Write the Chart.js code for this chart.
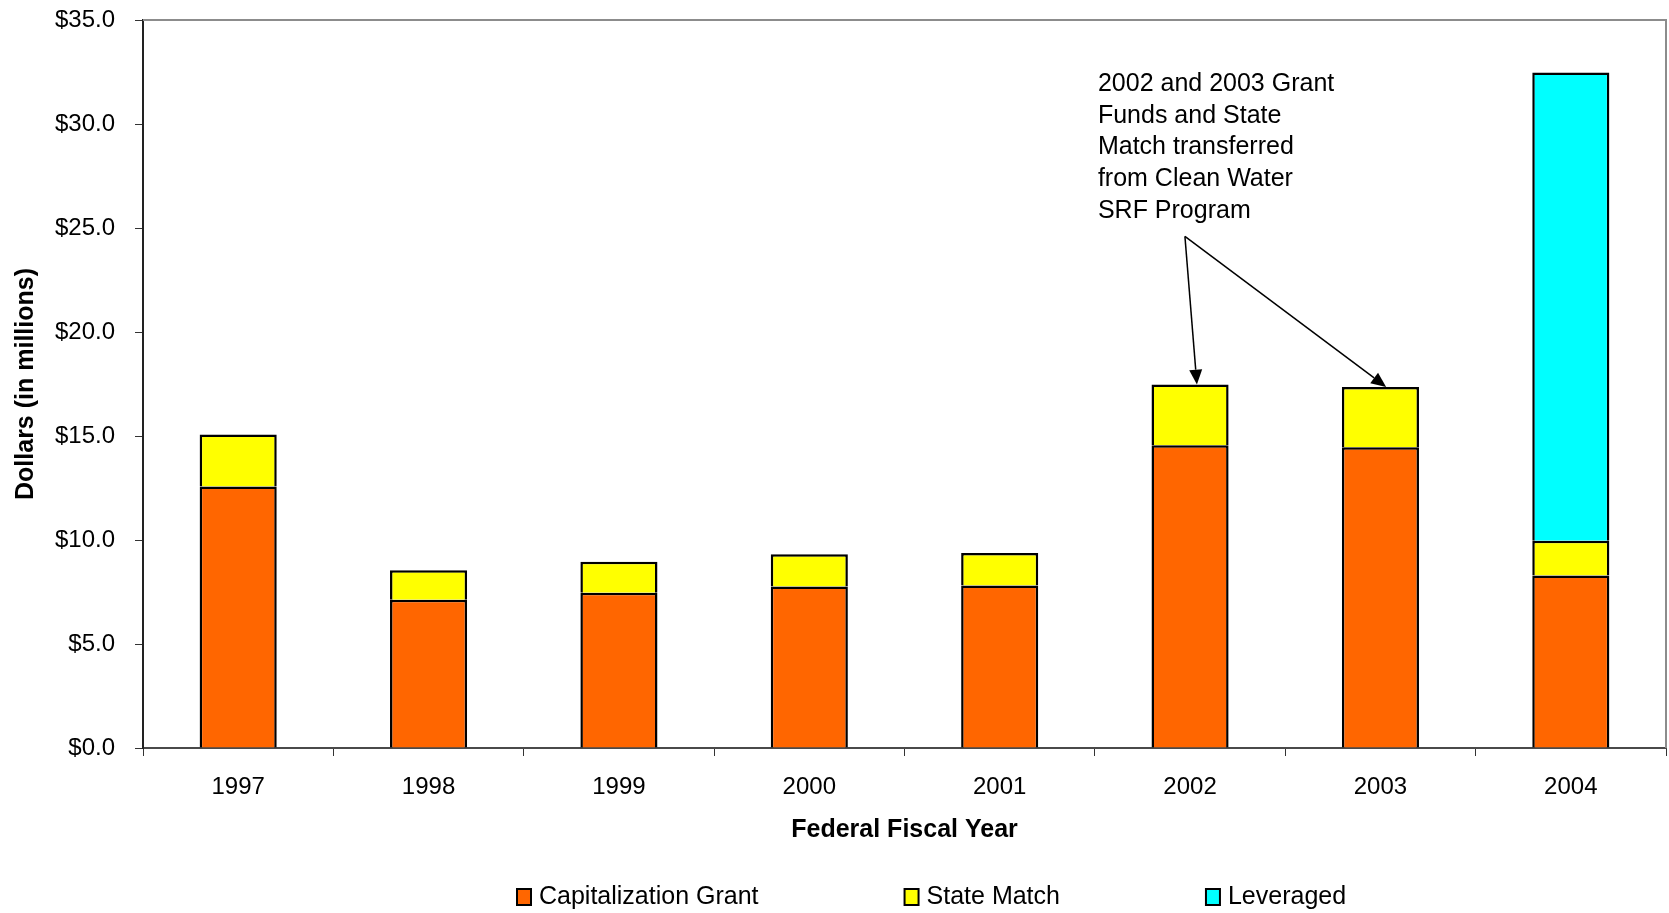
<!DOCTYPE html>
<html>
<head>
<meta charset="utf-8">
<script src="https://cdn.jsdelivr.net/npm/chart.js@4.4.0/dist/chart.umd.min.js"></script>
<style>
  html, body { margin: 0; padding: 0; background: #ffffff; }
  #wrap { width: 1669px; height: 913px; }
</style>
</head>
<body>
<div id="wrap"><canvas id="chart" width="1669" height="913"></canvas></div>
<script>
// Federal fiscal years on the category axis
const years = ['1997', '1998', '1999', '2000', '2001', '2002', '2003', '2004'];

// Funding sources, dollars in millions
const capitalizationGrant = [12.57, 7.13, 7.46, 7.77, 7.81, 14.56, 14.46, 8.29];
const stateMatch          = [2.50, 1.42, 1.49, 1.55, 1.56, 2.91, 2.90, 1.67];
const leveraged           = [null, null, null, null, null, null, null, 22.52];

// Value-axis ticks
const yTicks = [0, 5, 10, 15, 20, 25, 30, 35];

// Callout text and the years it points at
const noteLines = ['2002 and 2003 Grant', 'Funds and State', 'Match transferred', 'from Clean Water', 'SRF Program'];
const noteYears = ['2002', '2003'];

const FONT = "'Liberation Sans', Arial, Helvetica, sans-serif";
Chart.defaults.font.family = FONT;
Chart.defaults.color = '#000000';

// Gray frame on the top and right edges of the plot area
const framePlugin = {
  id: 'frame',
  beforeDatasetsDraw(chart) {
    const { ctx, chartArea: a } = chart;
    ctx.save();
    ctx.strokeStyle = '#8c8c8c';
    ctx.lineWidth = 2;
    ctx.beginPath();
    ctx.moveTo(a.left, a.top);
    ctx.lineTo(a.right, a.top);
    ctx.lineTo(a.right, a.bottom);
    ctx.stroke();
    ctx.restore();
  }
};

// Callout with arrows to the stacked totals of the transfer years
const notePlugin = {
  id: 'note',
  afterDatasetsDraw(chart) {
    const { ctx } = chart;
    const x = chart.scales.x, y = chart.scales.y;
    ctx.save();
    ctx.fillStyle = '#000';
    ctx.font = '25px ' + FONT;
    ctx.textAlign = 'left';
    ctx.textBaseline = 'middle';
    const tx = x.getPixelForValue(4.516);
    const ty = y.getPixelForValue(31.92);
    noteLines.forEach((line, i) => ctx.fillText(line, tx, ty + i * 31.7));

    const ox = x.getPixelForValue(4.973);
    const oy = y.getPixelForValue(24.6);
    const nudges = [0.036, 0.03];
    noteYears.forEach((yr, k) => {
      const i = years.indexOf(yr);
      const total = capitalizationGrant[i] + stateMatch[i] + (leveraged[i] || 0);
      const px = x.getPixelForValue(i + nudges[k]);
      const py = y.getPixelForValue(total);
      const ang = Math.atan2(py - oy, px - ox);
      const headLen = 15, headHalf = 6.5;
      const bx = px - headLen * Math.cos(ang), by = py - headLen * Math.sin(ang);
      ctx.strokeStyle = '#000';
      ctx.lineWidth = 1.5;
      ctx.beginPath();
      ctx.moveTo(ox, oy);
      ctx.lineTo(bx, by);
      ctx.stroke();
      ctx.beginPath();
      ctx.moveTo(px, py);
      ctx.lineTo(bx - headHalf * Math.sin(ang), by + headHalf * Math.cos(ang));
      ctx.lineTo(bx + headHalf * Math.sin(ang), by - headHalf * Math.cos(ang));
      ctx.closePath();
      ctx.fill();
    });
    ctx.restore();
  }
};

// Single-row legend under the axis title
const legendRowPlugin = {
  id: 'legendRow',
  afterDraw(chart) {
    const { ctx } = chart;
    ctx.save();
    ctx.font = '25px ' + FONT;
    ctx.textBaseline = 'middle';
    ctx.textAlign = 'left';
    let cx = 517;
    const cy = 897;
    chart.data.datasets.forEach(ds => {
      ctx.fillStyle = ds.backgroundColor;
      ctx.fillRect(cx, cy - 8, 14, 16);
      ctx.strokeStyle = '#000';
      ctx.lineWidth = 2;
      ctx.strokeRect(cx, cy - 8, 14, 16);
      ctx.fillStyle = '#000';
      ctx.fillText(ds.label, cx + 22, cy);
      cx += 22 + ctx.measureText(ds.label).width + 146;
    });
    ctx.restore();
  }
};

const barStyle = {
  borderColor: '#000000',
  borderWidth: 2.5,
  borderSkipped: 'start',
  barPercentage: 0.405,
  categoryPercentage: 1.0
};

new Chart(document.getElementById('chart'), {
  type: 'bar',
  data: {
    labels: years,
    datasets: [
      Object.assign({ label: 'Capitalization Grant', data: capitalizationGrant, backgroundColor: '#FF6600' }, barStyle),
      Object.assign({ label: 'State Match', data: stateMatch, backgroundColor: '#FFFF00' }, barStyle),
      Object.assign({ label: 'Leveraged', data: leveraged, backgroundColor: '#00FFFF' }, barStyle)
    ]
  },
  options: {
    responsive: false,
    devicePixelRatio: 1,
    animation: false,
    layout: { padding: { top: 20, right: 3, left: 0, bottom: 68 } },
    plugins: {
      legend: { display: false },
      tooltip: { enabled: false }
    },
    scales: {
      x: {
        stacked: true,
        grid: { offset: true, drawOnChartArea: false, drawTicks: true, tickLength: 8, color: '#333333', lineWidth: 1 },
        border: { color: '#4a4a4a', width: 2 },
        ticks: { font: { size: 24 }, color: '#000', padding: 17, maxRotation: 0 },
        title: { display: true, text: 'Federal Fiscal Year', font: { size: 25, weight: 'bold' }, padding: { top: 0, bottom: 0 } },
        afterFit(s) { s.height = 97; }
      },
      y: {
        stacked: true,
        min: 0,
        max: 35,
        afterBuildTicks(s) { s.ticks = yTicks.map(v => ({ value: v })); },
        ticks: { font: { size: 24 }, color: '#000', padding: 20, callback: v => '$' + Number(v).toFixed(1) },
        grid: { drawOnChartArea: false, drawTicks: true, tickLength: 8, color: '#333333', lineWidth: 1 },
        border: { color: '#222222', width: 2 },
        title: { display: true, text: 'Dollars (in millions)', font: { size: 25, weight: 'bold' }, padding: { top: 11, bottom: 0 } },
        afterFit(s) { s.width = 143; s.paddingTop = 14; s.paddingBottom = 14; }
      }
    }
  },
  plugins: [framePlugin, notePlugin, legendRowPlugin]
});
</script>
</body>
</html>
